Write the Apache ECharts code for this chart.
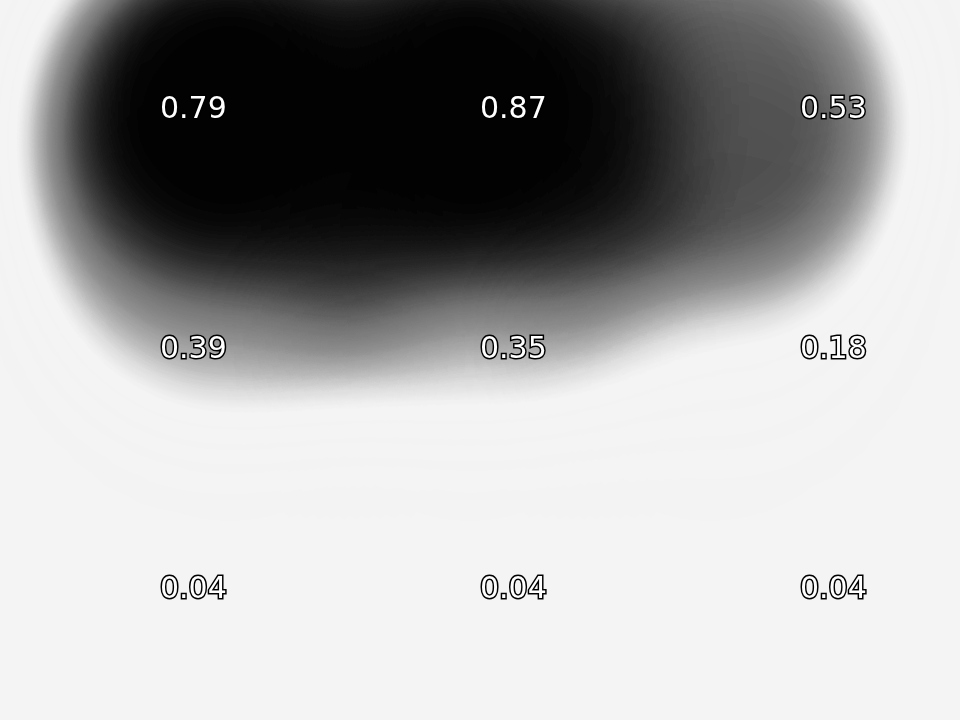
<!DOCTYPE html>
<html>
<head>
<meta charset="utf-8">
<title>heatmap</title>
<script src="https://cdn.jsdelivr.net/npm/echarts@6/dist/echarts.min.js"></script>
<style>
  html, body { margin: 0; padding: 0; background: #f4f4f4; }
  #main { width: 960px; height: 720px; }
</style>
</head>
<body>
<div id="main"></div>
<script>
// cell centres (board units) and values, top row first
const colPos = [0.5, 1.5, 2.5]
const rowPos = [2.5, 1.5, 0.5]
const rowTop = [0.79, 0.87, 0.53]
const rowMid = [0.39, 0.35, 0.18]
const rowBottom = [0.04, 0.04, 0.04]
const rows = [rowTop, rowMid, rowBottom]

// plain rectangle, geo just gives a linear board
echarts.registerMap('board', {
  type: 'FeatureCollection',
  features: [{
    type: 'Feature',
    properties: { name: 'board' },
    geometry: { type: 'Polygon', coordinates: [[[0, 0], [3, 0], [3, 3], [0, 3], [0, 0]]] }
  }]
})

let points = []
rows.forEach(function (row, r) {
  row.forEach(function (v, c) {
    points.push([colPos[c], rowPos[r], v])
  })
})

function boardGeo(bounds) {
  return {
    show: false,
    map: 'board',
    left: 0,
    top: 0,
    right: 0,
    bottom: 0,
    boundingCoords: bounds,
    aspectScale: (960 / 720) / ((bounds[1][0] - bounds[0][0]) / (bounds[0][1] - bounds[1][1])),
    silent: true
  }
}

let myChart = echarts.init(document.getElementById('main'))
let option = {
  backgroundColor: '#f4f4f4',
  animation: false,
  geo: [
    boardGeo([[-0.458, 3.417], [3.542, -2.583]]), // glow layer, squeezed upwards
    boardGeo([[0, 3], [3, 0]])                     // labels
  ],
  visualMap: {
    type: 'continuous',
    show: false,
    min: 0,
    max: 0.65,
    seriesIndex: 0,
    inRange: {
      color: ['#f4f4f4', '#f4f4f4', '#f4f4f4', '#f4f4f4', '#f4f4f4', '#c8c8c8',
        '#8c8c8c', '#646464', '#505050', '#282828', '#000000']
    }
  },
  series: [{
    type: 'heatmap',
    coordinateSystem: 'geo',
    geoIndex: 0,
    pointSize: 200,
    blurSize: 90,
    data: points
  }, {
    type: 'scatter',
    coordinateSystem: 'geo',
    geoIndex: 1,
    symbolSize: 0,
    silent: true,
    z: 10,
    itemStyle: { opacity: 1 },
    label: {
      show: true,
      position: 'inside',
      align: 'left',
      verticalAlign: 'middle',
      offset: [0, -10],
      color: '#ffffff',
      opacity: 1,
      fontFamily: 'DejaVu Sans',
      fontSize: 30,
      textBorderColor: '#000000',
      textBorderWidth: 3,
      formatter: function (p) {
        return p.value[2].toFixed(2)
      }
    },
    data: points
  }]
}
myChart.setOption(option)
</script>
</body>
</html>
